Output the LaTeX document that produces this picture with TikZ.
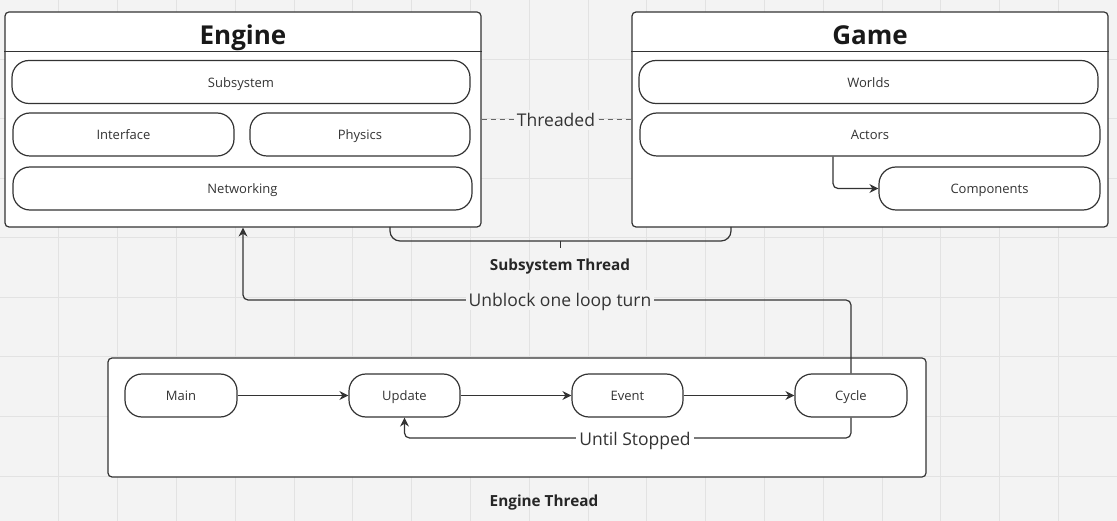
\documentclass[tikz,border=0pt]{standalone}
\usepackage{fontspec}
\setmainfont{Open Sans}
\usetikzlibrary{arrows.meta}
\definecolor{bgc}{HTML}{F3F3F3}
\definecolor{gridc}{HTML}{E2E2E2}
\definecolor{linec}{HTML}{333333}
\definecolor{txtc}{HTML}{333333}
\tikzset{
  container/.style={draw=linec, line width=1.2pt, fill=white, rounded corners=4pt, inner sep=0pt},
  pill/.style={draw=linec, line width=1.2pt, fill=white, rounded corners=17pt, minimum height=43pt, inner sep=0pt, font=\fontsize{13}{15}\selectfont, text=txtc, text height=13.5pt, text depth=3pt},
  titletxt/.style={font=\fontsize{26}{30}\selectfont\bfseries, text=black!90, text height=27pt, text depth=6pt, inner sep=0pt},
  captxt/.style={font=\fontsize{15.3}{18}\selectfont\bfseries, text=black!85},
  lbl/.style={font=\fontsize{17.5}{20}\selectfont, text=txtc, fill=bgc, inner xsep=3pt, inner ysep=0pt, text height=16.5pt, text depth=4pt},
  conn/.style={draw=linec, line width=1.2pt},
  arr/.style={conn, -{Stealth[length=9pt,width=9pt]}, rounded corners=5pt},
}
\begin{document}
\begin{tikzpicture}[x=1pt,y=-1pt]
\useasboundingbox (0,0) rectangle (1117,521);
\fill[bgc] (0,0) rectangle (1117,521);
\foreach \i in {1,...,18} { \draw[gridc, line width=1pt] (\i*58.8,0) -- (\i*58.8,521); }
\foreach \j in {1,...,8} { \draw[gridc, line width=1pt] (0,\j*59.5) -- (1117,\j*59.5); }

% Engine container
\node[container, minimum width=476pt, minimum height=215pt] (engine) at (243,119.5) {};
\draw[conn] ([yshift=-40pt]engine.north west) -- ([yshift=-40pt]engine.north east);
\node[titletxt] (enginetitle) at (243,34) {Engine};
\node[pill, minimum width=458pt] (subsys) at (241,82) {Subsystem};
\node[pill, minimum width=221pt] (iface) at (123.5,134.5) {Interface};
\node[pill, minimum width=220pt] (phys) at (360,134.5) {Physics};
\node[pill, minimum width=459pt] (net) at (242.5,188.5) {Networking};

% Game container
\node[container, minimum width=476pt, minimum height=215pt] (game) at (870,119.5) {};
\draw[conn] ([yshift=-40pt]game.north west) -- ([yshift=-40pt]game.north east);
\node[titletxt] (gametitle) at (870,34) {Game};
\node[pill, minimum width=459pt] (worlds) at (868.5,82) {Worlds};
\node[pill, minimum width=460pt] (actors) at (870,134.5) {Actors};
\node[pill, minimum width=221pt] (comps) at (989.5,188.5) {Components};
\draw[arr] ([xshift=-37pt]actors.south) |- (comps.west);

% Threaded
\draw[conn, line width=1pt, draw=black!60, dash pattern=on 5pt off 4pt] (engine.east |- 0,120) -- (game.west |- 0,120);
\node[lbl] (threaded) at (556,120) {Threaded};

% Subsystem thread bracket
\coordinate (brl) at (390,227);
\coordinate (brr) at (731,227);
\coordinate (brm) at (560.5,241);
\draw[conn, rounded corners=10pt] (brl) -- (brl |- brm) -- (brr |- brm) -- (brr);
\draw[conn] (brm) -- ++(0,7);
\node[captxt] (subthread) at (560,266.5) {Subsystem Thread};

% Engine thread container
\node[container, minimum width=818pt, minimum height=119pt] (ethread) at (517,417.5) {};
\node[captxt] (ethreadlbl) at (544,502.5) {Engine Thread};
\node[pill, minimum width=112pt] (main) at (181,395.5) {Main};
\node[pill, minimum width=111pt] (update) at (404.5,395.5) {Update};
\node[pill, minimum width=111pt] (event) at (627.5,395.5) {Event};
\node[pill, minimum width=112pt] (cycle) at (851,395.5) {Cycle};
\draw[arr] (main) -- (update);
\draw[arr] (update) -- (event);
\draw[arr] (event) -- (cycle);

% Until stopped
\draw[arr] (cycle.south) -- (cycle.south |- 0,438) -- (update.south |- 0,438) -- (update.south);
\node[lbl, fill=white] (untilstop) at (635,439) {Until Stopped};

% Unblock
\draw[arr] (cycle.north) -- (cycle.north |- 0,300) -- (engine.south |- 0,300) -- (engine.south);
\node[lbl] (unblock) at (560,300) {Unblock one loop turn};
\end{tikzpicture}
\end{document}
